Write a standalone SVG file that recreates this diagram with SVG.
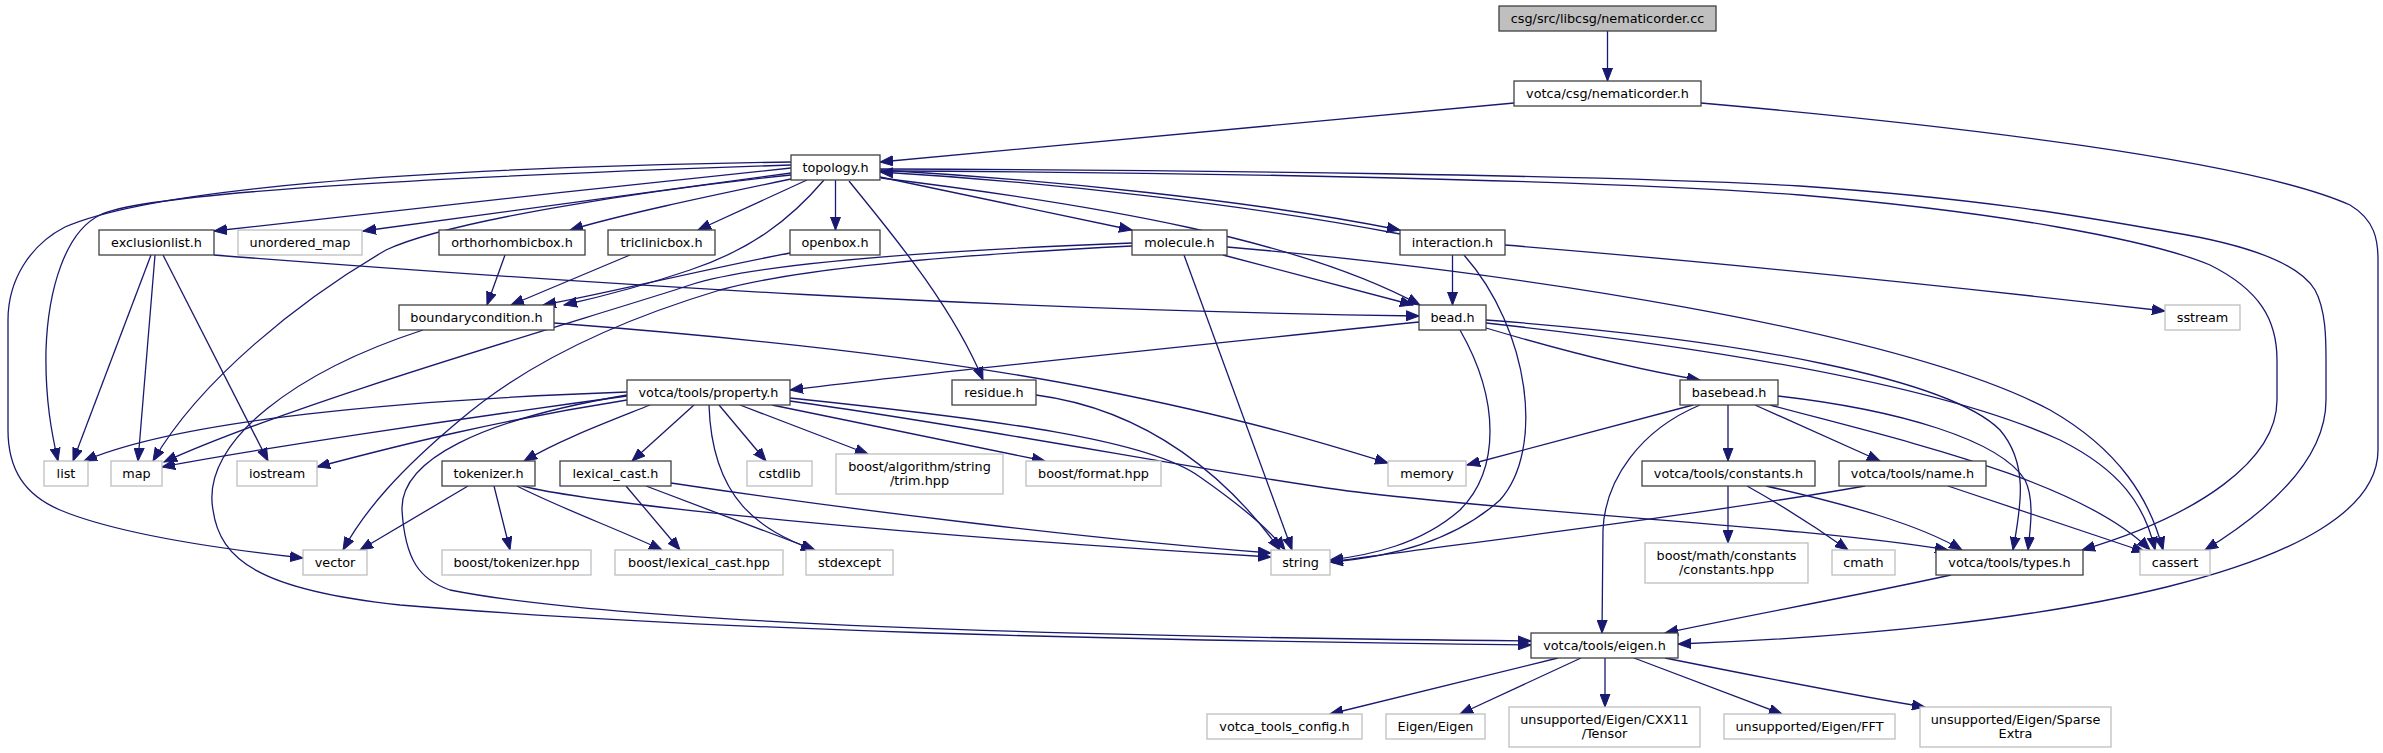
<svg xmlns="http://www.w3.org/2000/svg" width="2383" height="753" viewBox="0 0 2383 753">
<defs>
<marker id="ah" markerWidth="14" markerHeight="11" refX="13" refY="5.5" orient="auto" markerUnits="userSpaceOnUse">
<path d="M0,0.5 L13,5.5 L0,10.5 z" fill="#191970" stroke="#191970" stroke-width="1"/>
</marker>
</defs>
<style>
.e{fill:none;stroke:#191970;stroke-width:1.3;marker-end:url(#ah)}
.d rect{fill:#ffffff;stroke:#404040;stroke-width:1.3}
.x rect{fill:#ffffff;stroke:#bfbfbf;stroke-width:1.3}
.r rect{fill:#bfbfbf;stroke:#404040;stroke-width:1.3}
text{font-family:"DejaVu Sans","Liberation Sans",sans-serif;font-size:12.8px;fill:#000;text-anchor:middle}
</style>
<rect width="2383" height="753" fill="#ffffff"/>
<g id="edges">
<path class="e" d="M1607.5,31 V81"/>
<path class="e" d="M1514,103 C1300,123 1050,146 880,162"/>
<path class="e" d="M1701,103 C1950,125 2250,160 2350,205 C2375,220 2378,240 2378,260 L2378,450 C2378,570 2050,630 1678,644"/>
<path class="e" d="M791,168 C600,188 400,210 214,231"/>
<path class="e" d="M791,173 L363,231"/>
<path class="e" d="M791,179 C700,198 620,215 570,230"/>
<path class="e" d="M807,180 L698,230"/>
<path class="e" d="M835.5,180 V230"/>
<path class="e" d="M824,180 C790,220 750,250 690,270 C640,287 600,297 564,305"/>
<path class="e" d="M880,177 L1132,230"/>
<path class="e" d="M880,170 C1050,180 1250,200 1400,230"/>
<path class="e" d="M881,178 C1100,205 1300,240 1420,305"/>
<path class="e" d="M849,181 C880,220 950,300 983,380"/>
<path class="e" d="M791,165 C500,175 150,190 100,215 C65,232 48,290 46,350 C45,400 52,435 58,461"/>
<path class="e" d="M791,175 C650,190 450,220 386,250 C300,300 200,380 153,461"/>
<path class="e" d="M791,162 C400,168 150,190 65,227 C30,245 8,280 8,320 L8,430 C8,470 25,495 60,510 C120,535 230,550 303,558"/>
<path class="e" d="M880,171 C1200,172 1600,180 1800,195 C2000,212 2150,240 2210,265 C2260,290 2277,320 2277,360 L2277,400 C2277,460 2200,515 2082,550"/>
<path class="e" d="M880,169 C1200,170 1600,175 1800,186 C2000,200 2100,220 2170,232 C2250,245 2300,265 2315,290 C2326,310 2326,340 2326,360 L2326,400 C2326,460 2270,510 2205,550"/>
<path class="e" d="M214,255 C600,285 1000,310 1419,316"/>
<path class="e" d="M151,255 L73,461"/>
<path class="e" d="M155,255 L138,461"/>
<path class="e" d="M163,255 L268,461"/>
<path class="e" d="M505,255 L487,305"/>
<path class="e" d="M630,255 L511,305"/>
<path class="e" d="M790,253 C700,270 600,295 543,305"/>
<path class="e" d="M1223,255 L1413,305"/>
<path class="e" d="M1132,243 C950,250 760,262 690,285 C600,315 300,400 164,462"/>
<path class="e" d="M1132,246 C950,255 800,268 720,290 C620,320 530,360 460,420 C400,470 365,510 343,550"/>
<path class="e" d="M1184,255 L1292,550"/>
<path class="e" d="M1227,247 C1500,270 1900,330 2050,410 C2120,450 2150,500 2163,550"/>
<path class="e" d="M1400,234 C1250,205 1050,182 880,172"/>
<path class="e" d="M1452.5,255 V305"/>
<path class="e" d="M1505,245 C1750,265 2000,292 2165,311"/>
<path class="e" d="M1464,255 C1530,330 1545,450 1500,500 C1450,545 1380,558 1330,562"/>
<path class="e" d="M423,330 C300,370 200,440 213,510 C220,560 260,590 400,605 C700,630 1100,640 1531,645"/>
<path class="e" d="M554,323 C750,338 950,360 1100,390 C1250,420 1330,445 1388,463"/>
<path class="e" d="M1419,322 C1200,345 950,370 790,390"/>
<path class="e" d="M1486,328 C1560,350 1640,370 1700,380"/>
<path class="e" d="M1460,330 C1500,400 1500,470 1460,510 C1420,545 1370,555 1330,560"/>
<path class="e" d="M1486,320 C1750,340 1950,380 2000,430 C2030,465 2020,510 2013,550"/>
<path class="e" d="M1486,323 C1750,352 1950,390 2060,440 C2120,470 2145,505 2155,550"/>
<path class="e" d="M627,392 C400,400 180,420 84,461"/>
<path class="e" d="M627,396 C450,420 250,450 162,467"/>
<path class="e" d="M627,400 C500,420 400,445 317,467"/>
<path class="e" d="M650,405 C600,425 560,440 524,461"/>
<path class="e" d="M694,405 L632,461"/>
<path class="e" d="M719,405 L766,461"/>
<path class="e" d="M740,405 L868,454"/>
<path class="e" d="M772,405 L1045,461"/>
<path class="e" d="M709,405 C712,500 760,530 814,550"/>
<path class="e" d="M790,398 C1000,420 1150,440 1200,477 C1240,505 1270,530 1285,550"/>
<path class="e" d="M790,401 C1000,430 1250,480 1365,493 C1550,515 1800,526 1948,550"/>
<path class="e" d="M627,395 C480,420 400,460 402,510 C405,560 420,580 450,590 C600,620 1000,636 1531,641"/>
<path class="e" d="M1036,395 C1150,410 1230,480 1280,550"/>
<path class="e" d="M1693,405 L1467,465"/>
<path class="e" d="M1728,405 V461"/>
<path class="e" d="M1755,405 L1880,461"/>
<path class="e" d="M1778,396 C1900,410 2000,440 2025,480 C2035,500 2030,530 2028,550"/>
<path class="e" d="M1770,405 C1900,440 2080,480 2150,550"/>
<path class="e" d="M1700,405 C1640,430 1605,480 1603,530 L1602,633"/>
<path class="e" d="M468,486 L360,550"/>
<path class="e" d="M494,486 L510,550"/>
<path class="e" d="M517,486 C560,508 620,530 662,550"/>
<path class="e" d="M522,486 C600,505 900,535 1271,557"/>
<path class="e" d="M626,486 L680,550"/>
<path class="e" d="M646,486 L815,550"/>
<path class="e" d="M671,483 C850,510 1100,540 1271,553"/>
<path class="e" d="M1728,486 V543"/>
<path class="e" d="M1747,486 C1790,510 1820,530 1848,550"/>
<path class="e" d="M1766,486 C1850,505 1920,525 1962,550"/>
<path class="e" d="M1865,486 C1700,515 1450,545 1330,562"/>
<path class="e" d="M1948,486 L2145,552"/>
<path class="e" d="M1951,575 C1850,597 1750,615 1665,633"/>
<path class="e" d="M1558,658 L1330,714"/>
<path class="e" d="M1581,658 L1460,714"/>
<path class="e" d="M1605,658 V707"/>
<path class="e" d="M1634,658 L1782,714"/>
<path class="e" d="M1665,658 C1750,675 1850,695 1925,707"/>
</g>
<g id="n1" class="r"><rect x="1499" y="6" width="217" height="25"/><text x="1607.5" y="23">csg/src/libcsg/nematicorder.cc</text></g>
<g id="n2" class="d"><rect x="1514" y="81" width="187" height="25"/><text x="1607.5" y="98">votca/csg/nematicorder.h</text></g>
<g id="n3" class="d"><rect x="791" y="155" width="89" height="25"/><text x="835.5" y="172">topology.h</text></g>
<g id="n4" class="d"><rect x="99" y="230" width="115" height="25"/><text x="156.5" y="247">exclusionlist.h</text></g>
<g id="n5" class="x"><rect x="238" y="230" width="124" height="25"/><text x="300" y="247">unordered_map</text></g>
<g id="n6" class="d"><rect x="439" y="230" width="146" height="25"/><text x="512" y="247">orthorhombicbox.h</text></g>
<g id="n7" class="d"><rect x="608" y="230" width="107" height="25"/><text x="661.5" y="247">triclinicbox.h</text></g>
<g id="n8" class="d"><rect x="790" y="230" width="90" height="25"/><text x="835" y="247">openbox.h</text></g>
<g id="n9" class="d"><rect x="1132" y="230" width="95" height="25"/><text x="1179.5" y="247">molecule.h</text></g>
<g id="n10" class="d"><rect x="1400" y="230" width="105" height="25"/><text x="1452.5" y="247">interaction.h</text></g>
<g id="n11" class="d"><rect x="399" y="305" width="155" height="25"/><text x="476.5" y="322">boundarycondition.h</text></g>
<g id="n12" class="d"><rect x="1419" y="305" width="67" height="25"/><text x="1452.5" y="322">bead.h</text></g>
<g id="n13" class="x"><rect x="2165" y="305" width="75" height="25"/><text x="2202.5" y="322">sstream</text></g>
<g id="n14" class="d"><rect x="627" y="380" width="163" height="25"/><text x="708.5" y="397">votca/tools/property.h</text></g>
<g id="n15" class="d"><rect x="952" y="380" width="84" height="25"/><text x="994" y="397">residue.h</text></g>
<g id="n16" class="d"><rect x="1680" y="380" width="98" height="25"/><text x="1729" y="397">basebead.h</text></g>
<g id="n17" class="x"><rect x="44" y="461" width="44" height="25"/><text x="66" y="478">list</text></g>
<g id="n18" class="x"><rect x="111" y="461" width="51" height="25"/><text x="136.5" y="478">map</text></g>
<g id="n19" class="x"><rect x="237" y="461" width="80" height="25"/><text x="277" y="478">iostream</text></g>
<g id="n20" class="d"><rect x="442" y="461" width="93" height="25"/><text x="488.5" y="478">tokenizer.h</text></g>
<g id="n21" class="d"><rect x="560" y="461" width="111" height="25"/><text x="615.5" y="478">lexical_cast.h</text></g>
<g id="n22" class="x"><rect x="747" y="461" width="65" height="25"/><text x="779.5" y="478">cstdlib</text></g>
<g id="n23" class="x"><rect x="836" y="454" width="167" height="40"/><text x="919.5" y="471">boost/algorithm/string</text><text x="919.5" y="485">/trim.hpp</text></g>
<g id="n24" class="x"><rect x="1026" y="461" width="135" height="25"/><text x="1093.5" y="478">boost/format.hpp</text></g>
<g id="n25" class="x"><rect x="1388" y="461" width="78" height="25"/><text x="1427" y="478">memory</text></g>
<g id="n26" class="d"><rect x="1642" y="461" width="173" height="25"/><text x="1728.5" y="478">votca/tools/constants.h</text></g>
<g id="n27" class="d"><rect x="1839" y="461" width="147" height="25"/><text x="1912.5" y="478">votca/tools/name.h</text></g>
<g id="n28" class="x"><rect x="303" y="550" width="64" height="25"/><text x="335" y="567">vector</text></g>
<g id="n29" class="x"><rect x="442" y="550" width="149" height="25"/><text x="516.5" y="567">boost/tokenizer.hpp</text></g>
<g id="n30" class="x"><rect x="615" y="550" width="168" height="25"/><text x="699" y="567">boost/lexical_cast.hpp</text></g>
<g id="n31" class="x"><rect x="806" y="550" width="87" height="25"/><text x="849.5" y="567">stdexcept</text></g>
<g id="n32" class="x"><rect x="1271" y="550" width="59" height="25"/><text x="1300.5" y="567">string</text></g>
<g id="n33" class="x"><rect x="1645" y="543" width="163" height="40"/><text x="1726.5" y="560">boost/math/constants</text><text x="1726.5" y="574">/constants.hpp</text></g>
<g id="n34" class="x"><rect x="1832" y="550" width="63" height="25"/><text x="1863.5" y="567">cmath</text></g>
<g id="n35" class="d"><rect x="1936" y="550" width="147" height="25"/><text x="2009.5" y="567">votca/tools/types.h</text></g>
<g id="n36" class="x"><rect x="2140" y="550" width="70" height="25"/><text x="2175" y="567">cassert</text></g>
<g id="n37" class="d"><rect x="1531" y="633" width="147" height="25"/><text x="1604.5" y="650">votca/tools/eigen.h</text></g>
<g id="n38" class="x"><rect x="1207" y="714" width="155" height="25"/><text x="1284.5" y="731">votca_tools_config.h</text></g>
<g id="n39" class="x"><rect x="1386" y="714" width="99" height="25"/><text x="1435.5" y="731">Eigen/Eigen</text></g>
<g id="n40" class="x"><rect x="1509" y="707" width="191" height="40"/><text x="1604.5" y="724">unsupported/Eigen/CXX11</text><text x="1604.5" y="738">/Tensor</text></g>
<g id="n41" class="x"><rect x="1724" y="714" width="171" height="25"/><text x="1809.5" y="731">unsupported/Eigen/FFT</text></g>
<g id="n42" class="x"><rect x="1920" y="707" width="191" height="40"/><text x="2015.5" y="724">unsupported/Eigen/Sparse</text><text x="2015.5" y="738">Extra</text></g>
</svg>
